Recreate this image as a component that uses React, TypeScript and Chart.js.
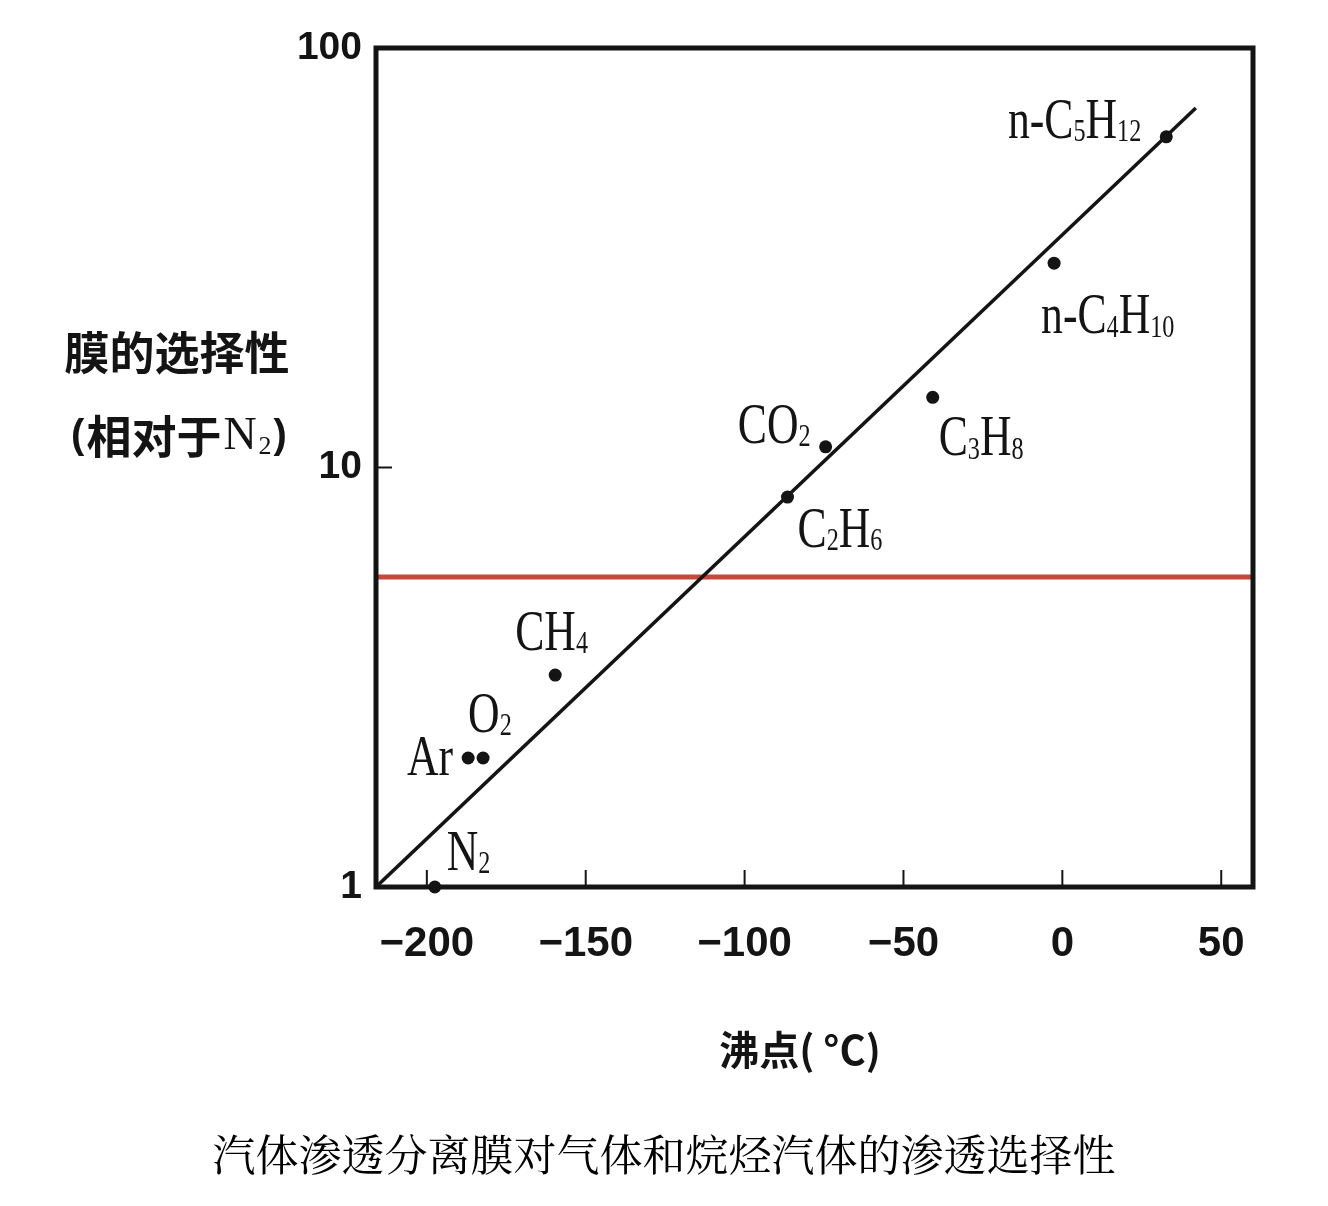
import React, { useEffect, useRef } from "react";
import { Chart, registerables } from "chart.js";

Chart.register(...registerables);

// ---- data ----
const gasNames = ["N2", "Ar", "O2", "CH4", "C2H6", "CO2", "C3H8", "n-C4H10", "n-C5H12"];
const boilingPoints = [-197.5, -187, -182.3, -159.6, -86.5, -74.5, -40.8, -2.6, 32.7];
const selectivity = [1.0, 2.03, 2.03, 3.2, 8.5, 11.2, 14.7, 30.7, 61.4];
const fitLineX = [-216, 42];
const fitLineY = [1, 71.9];
const thresholdSelectivity = 5.48;
const xRange = [-216, 60];
const yRange = [1, 100];
const xTicks = [-200, -150, -100, -50, 0, 50];
const yTicks = [1, 10, 100];
const yTitleLine1 = "膜的选择性";
const yTitleLine2 = ["(", "相对于", "N", "2", ")"];
const xTitle = "沸点( °C)";
const caption = "汽体渗透分离膜对气体和烷烃汽体的渗透选择性";

// ---- label layout (offsets from the dot, px) ----
const labelLayout: [number, number, string][] = [
  [12, -17, "left"],
  [-15, 17, "right"],
  [-15, -26, "left"],
  [-40, -25, "left"],
  [10, 50, "left"],
  [-15, -4, "right"],
  [6, 58, "left"],
  [-13, 70, "left"],
  [-25, 1, "right"],
];

const SERIF = '"Liberation Serif", "Times New Roman", "DejaVu Serif", serif';
const SANS = '"Liberation Sans", Arial, "DejaVu Sans", sans-serif';
const CJK_BOLD = '"Noto Sans CJK SC", "Noto Sans", sans-serif';
const CJK_CAPTION = '"Noto Serif CJK SC", "Noto Sans CJK SC", serif';
const INK = "#141414";

function drawChem(ctx: CanvasRenderingContext2D, text: string, x: number, y: number, align: string, size: number, sx: number) {
  const parts: { t: string; sub: boolean }[] = [];
  for (const ch of text) {
    const sub = /[0-9]/.test(ch);
    const last = parts[parts.length - 1];
    if (last && last.sub === sub) last.t += ch;
    else parts.push({ t: ch, sub });
  }
  const mainFont = `${size}px ${SERIF}`;
  const subFont = `${Math.round(size * 0.55)}px ${SERIF}`;
  const widths = parts.map((p) => {
    ctx.font = p.sub ? subFont : mainFont;
    return ctx.measureText(p.t).width;
  });
  const total = widths.reduce((a, b) => a + b, 0);
  ctx.save();
  ctx.translate(x, y);
  ctx.scale(sx, 1);
  ctx.fillStyle = INK;
  ctx.textAlign = "left";
  ctx.textBaseline = "alphabetic";
  let cx = align === "right" ? -total : align === "center" ? -total / 2 : 0;
  parts.forEach((p, i) => {
    ctx.font = p.sub ? subFont : mainFont;
    ctx.fillText(p.t, cx, p.sub ? size * 0.06 : 0);
    cx += widths[i];
  });
  ctx.restore();
}

const decorPlugin = {
  id: "decor",
  afterDatasetsDraw(chart: any) {
    const ctx: CanvasRenderingContext2D = chart.ctx;
    const xs = chart.scales.x;
    const ys = chart.scales.y;
    const ca = chart.chartArea;

    // point labels
    gasNames.forEach((name, i) => {
      const px = xs.getPixelForValue(boilingPoints[i]);
      const py = ys.getPixelForValue(selectivity[i]);
      const [dx, dy, align] = labelLayout[i];
      drawChem(ctx, name, px + dx, py + dy, align, 56, 0.78);
    });

    // frame
    ctx.save();
    ctx.strokeStyle = INK;
    ctx.lineWidth = 5;
    ctx.lineJoin = "miter";
    ctx.strokeRect(ca.left, ca.top, ca.right - ca.left, ca.bottom - ca.top);

    // inward tick marks
    ctx.lineWidth = 2;
    xTicks.forEach((v) => {
      const px = xs.getPixelForValue(v);
      ctx.beginPath();
      ctx.moveTo(px, ca.bottom);
      ctx.lineTo(px, ca.bottom - 17);
      ctx.stroke();
    });
    yTicks.forEach((v) => {
      const py = ys.getPixelForValue(v);
      ctx.beginPath();
      ctx.moveTo(ca.left, py);
      ctx.lineTo(ca.left + 16, py);
      ctx.stroke();
    });
    ctx.restore();
  },
  afterDraw(chart: any) {
    const ctx: CanvasRenderingContext2D = chart.ctx;
    ctx.save();
    ctx.fillStyle = INK;
    ctx.textBaseline = "middle";

    // y title
    ctx.textAlign = "center";
    ctx.font = `bold 45px ${CJK_BOLD}`;
    ctx.fillText(yTitleLine1, 169, 345);

    // y title line 2 with subscript
    const segs = [
      { t: yTitleLine2[0], f: `bold 40px ${SANS}`, dy: 0 },
      { t: yTitleLine2[1], f: `bold 45px ${CJK_BOLD}`, dy: 0 },
      { t: yTitleLine2[2], f: `46px ${SERIF}`, dy: 0 },
      { t: yTitleLine2[3], f: `26px ${SERIF}`, dy: 10 },
      { t: yTitleLine2[4], f: `bold 40px ${SANS}`, dy: 0 },
    ];
    const ws = segs.map((s) => {
      ctx.font = s.f;
      return ctx.measureText(s.t).width + 2;
    });
    const tot = ws.reduce((a, b) => a + b, 0);
    let cx = 172 - tot / 2;
    ctx.textAlign = "left";
    segs.forEach((s, i) => {
      ctx.font = s.f;
      ctx.fillText(s.t, cx, 429 + s.dy);
      cx += ws[i];
    });

    // x title
    ctx.textAlign = "center";
    ctx.font = `bold 40px ${CJK_BOLD}`;
    ctx.fillText(xTitle, 792, 1042);

    // caption
    ctx.font = `43px ${CJK_CAPTION}`;
    ctx.fillStyle = "#000";
    ctx.fillText(caption, 656, 1147);
    ctx.restore();
  },
};

export default function App() {
  const canvasRef = useRef<HTMLCanvasElement | null>(null);

  useEffect(() => {
    if (!canvasRef.current) return;
    const points = boilingPoints.map((x, i) => ({ x, y: selectivity[i] }));
    const fit = fitLineX.map((x, i) => ({ x, y: fitLineY[i] }));
    const threshold = xRange.map((x) => ({ x, y: thresholdSelectivity }));

    const chart = new Chart(canvasRef.current, {
      type: "scatter",
      data: {
        datasets: [
          {
            label: "gases",
            data: points,
            pointRadius: 6.5,
            pointBackgroundColor: INK,
            pointBorderColor: INK,
            pointBorderWidth: 0,
            showLine: false,
            clip: false,
          } as any,
          {
            label: "fit",
            data: fit,
            showLine: true,
            pointRadius: 0,
            borderColor: INK,
            borderWidth: 3.5,
          },
          {
            label: "threshold",
            data: threshold,
            showLine: true,
            pointRadius: 0,
            borderColor: "#c8473d",
            borderWidth: 5,
          },
        ],
      },
      options: {
        animation: false,
        responsive: true,
        maintainAspectRatio: false,
        layout: { padding: { top: 40, right: 67, left: 0, bottom: 0 } },
        plugins: {
          legend: { display: false },
          tooltip: { enabled: false },
          title: { display: false },
        },
        scales: {
          x: {
            type: "linear",
            position: "bottom",
            min: xRange[0],
            max: xRange[1],
            grid: { display: false, drawTicks: false },
            border: { display: false },
            ticks: {
              padding: 32,
              color: INK,
              autoSkip: false,
              maxRotation: 0,
              font: { family: SANS, size: 42, weight: "bold" },
              callback: (v: any) => (Number(v) < 0 ? "\u2212" + Math.abs(Number(v)) : String(v)),
            },
            afterBuildTicks: (s: any) => {
              s.ticks = xTicks.map((value) => ({ value }));
            },
            afterFit: (s: any) => {
              s.height = 311;
            },
          },
          y: {
            type: "logarithmic",
            position: "left",
            min: yRange[0],
            max: yRange[1],
            grid: { display: false, drawTicks: false },
            border: { display: false },
            ticks: {
              padding: 14,
              color: INK,
              autoSkip: false,
              font: { family: SANS, size: 39, weight: "bold" },
              callback: (v: any) => String(v),
            },
            afterBuildTicks: (s: any) => {
              s.ticks = yTicks.map((value) => ({ value }));
            },
            afterFit: (s: any) => {
              s.width = 368;
            },
          },
        },
      },
      plugins: [decorPlugin],
    });
    return () => chart.destroy();
  }, []);

  return (
    <div style={{ width: 1312, height: 1190, position: "relative", background: "#fff" }}>
      <canvas ref={canvasRef} style={{ display: "block" }} />
    </div>
  );
}
